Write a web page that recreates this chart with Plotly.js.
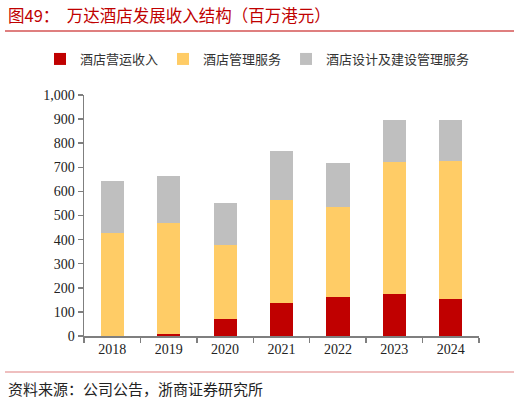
<!DOCTYPE html>
<html>
<head>
<meta charset="utf-8">
<script src="https://cdn.plot.ly/plotly-3.0.1.min.js"></script>
<style>
  html, body { margin: 0; padding: 0; background: #fff; }
  #chart { width: 520px; height: 402px; }
</style>
</head>
<body>
<div id="chart"></div>
<script>
// 数据（百万港元）
const years = ["2018", "2019", "2020", "2021", "2022", "2023", "2024"];
const hotelOps = [0, 8, 71, 138, 162, 174, 154];        // 酒店营运收入
const hotelMgmt = [426, 461, 307, 428, 373, 549, 572];  // 酒店管理服务
const designMgmt = [217, 194, 173, 200, 183, 173, 170]; // 酒店设计及建设管理服务
const yTicks = [0, 100, 200, 300, 400, 500, 600, 700, 800, 900, 1000];

const cjk = "'Noto Sans CJK SC', sans-serif";
const num = "'Liberation Serif', 'DejaVu Serif', serif";

function barTrace(y, name, color) {
    return {
        x: years, y: y, name: name, type: "bar",
        marker: { color: color, line: { width: 0 } },
        hoverinfo: "x+y+name"
    };
}

let data = [
    barTrace(hotelOps, "酒店营运收入", "#C00000"),
    barTrace(hotelMgmt, "酒店管理服务", "#FFCC66"),
    barTrace(designMgmt, "酒店设计及建设管理服务", "#BFBFBF")
];

// 以像素换算到 paper 坐标
const plotTop = 95, plotBottom = 336, plotLeft = 84, plotRight = 479;
const py = p => (plotBottom - p) / (plotBottom - plotTop);
const px = p => (p - plotLeft) / (plotRight - plotLeft);

let layout = {
    width: 520,
    height: 402,
    margin: { l: plotLeft, r: 520 - plotRight, t: plotTop, b: 402 - plotBottom, pad: 0 },
    paper_bgcolor: "#fff",
    plot_bgcolor: "#fff",
    barmode: "stack",
    bargap: 0.59,
    showlegend: true,
    legend: {
        orientation: "h",
        traceorder: "normal",
        x: px(40), y: py(59),
        xanchor: "left", yanchor: "middle",
        font: { family: cjk, size: 13, color: "#333" },
        itemwidth: 30,
        tracegroupgap: 0
    },
    xaxis: {
        type: "category",
        showline: true, linecolor: "#7f7f7f", linewidth: 1.5,
        ticks: "outside", tickson: "boundaries", ticklen: 5, tickcolor: "#7f7f7f", tickwidth: 1.5,
        showgrid: false, zeroline: false,
        tickfont: { family: num, size: 14, color: "#222" },
        fixedrange: true
    },
    yaxis: {
        range: [0, 1000],
        tickvals: yTicks,
        ticktext: yTicks.map(v => v.toLocaleString("en-US")),
        showline: true, linecolor: "#7f7f7f", linewidth: 1.5,
        ticks: "outside", ticklen: 5, tickcolor: "#7f7f7f", tickwidth: 1.5,
        showgrid: false, zeroline: false,
        tickfont: { family: num, size: 14, color: "#222" },
        fixedrange: true
    },
    annotations: [
        {
            text: "图49：  万达酒店发展收入结构（百万港元）",
            xref: "paper", yref: "paper", x: px(6), y: py(15),
            xanchor: "left", yanchor: "middle", showarrow: false,
            font: { family: cjk, size: 16.5, color: "#C00000" }
        },
        {
            text: "资料来源：公司公告，浙商证券研究所",
            xref: "paper", yref: "paper", x: px(6), y: py(388),
            xanchor: "left", yanchor: "middle", showarrow: false,
            font: { family: cjk, size: 15, color: "#222" }
        }
    ],
    shapes: [
        {
            type: "line", xref: "paper", yref: "paper",
            x0: px(5), x1: px(514), y0: py(31), y1: py(31),
            line: { color: "#C00000", width: 1.2 }
        },
        {
            type: "line", xref: "paper", yref: "paper",
            x0: px(5), x1: px(514), y0: py(372), y1: py(372),
            line: { color: "#E08080", width: 1.2 }
        }
    ]
};

Plotly.newPlot("chart", data, layout, { displayModeBar: false, staticPlot: true });
</script>
</body>
</html>
